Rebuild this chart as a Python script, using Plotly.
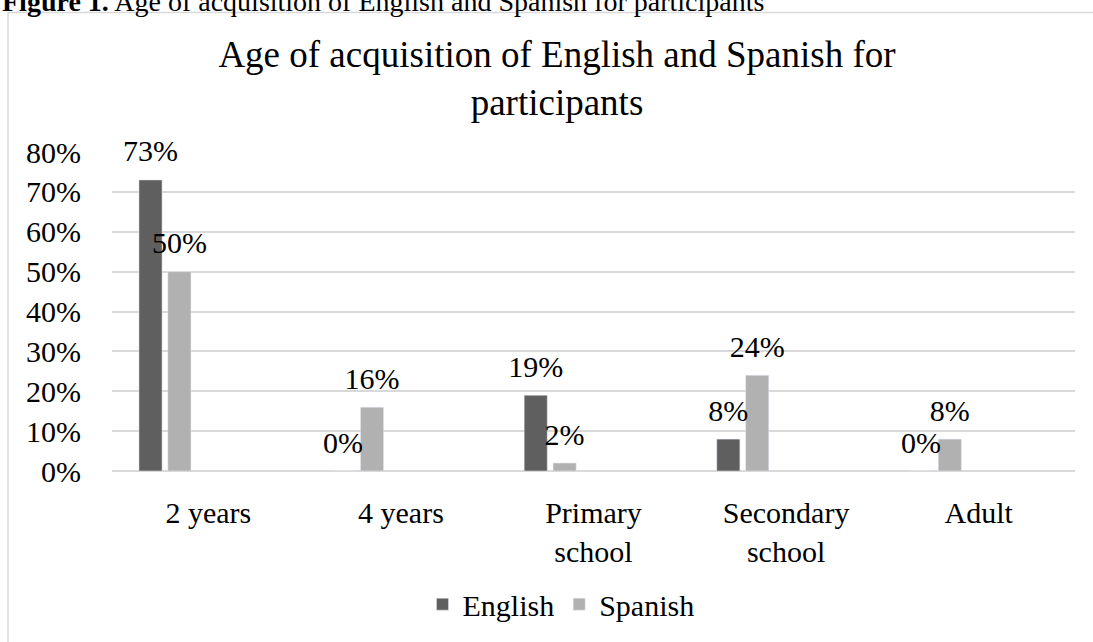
import plotly.graph_objects as go

categories = ["2 years", "4 years", "Primary<br>school", "Secondary<br>school", "Adult"]
english = [0.73, 0.00, 0.19, 0.08, 0.00]
spanish = [0.50, 0.16, 0.02, 0.24, 0.08]
# the source chart keeps three empty series, which reserve slots in each group
empty = [None, None, None, None, None]

y_ticks = [0, 0.1, 0.2, 0.3, 0.4, 0.5, 0.6, 0.7, 0.8]

FONT = "Times New Roman, Liberation Serif, serif"
GAP = 0.25

# plot area in pixels (1093 x 642 page)
L, R, T, B = 112, 18, 152, 169
PW = 1093 - L - R
PH = 642 - T - B


def px_x(x):
    return (x - L) / PW


def px_y(y):
    return (642 - B - y) / PH


fig = go.Figure()
series = [("English", english, "#5f5f5f"), ("Spanish", spanish, "#b1b1b1")]
for name, vals, col in series:
    fig.add_trace(
        go.Bar(
            name=name,
            x=categories,
            y=vals,
            marker=dict(color=col),
        )
    )
for i in range(3):
    fig.add_trace(go.Bar(name=f"s{i}", x=categories, y=empty, showlegend=False, hoverinfo="skip"))

# data labels, grouped the same way as the bars
for name, vals, col in series:
    fig.add_trace(
        go.Scatter(
            x=categories,
            y=vals,
            mode="markers+text",
            text=[f"{v:.0%}" for v in vals],
            textposition="top center",
            textfont=dict(family=FONT, size=30, color="black"),
            marker=dict(size=16, opacity=0),
            orientation="v",
            showlegend=False,
            hoverinfo="skip",
            cliponaxis=False,
        )
    )
for i in range(3):
    fig.add_trace(
        go.Scatter(x=categories, y=empty, mode="markers", orientation="v",
                   showlegend=False, hoverinfo="skip")
    )

fig.update_layout(
    width=1093,
    height=642,
    margin=dict(l=L, r=R, t=T, b=B),
    paper_bgcolor="white",
    plot_bgcolor="white",
    barmode="group",
    bargap=GAP,
    bargroupgap=0.2,
    scattermode="group",
    scattergap=GAP,
    font=dict(family=FONT, size=30, color="black"),
    title=dict(
        text="Age of acquisition of English and Spanish for<br>participants",
        font=dict(family=FONT, size=37, color="black"),
        x=557 / 1093,
        xref="container",
        xanchor="center",
        y=1 - 67 / 642,
        yref="container",
        yanchor="top",
    ),
    xaxis=dict(
        showgrid=False,
        showline=False,
        ticks="",
        ticklabelstandoff=21,
        tickfont=dict(family=FONT, size=30, color="black"),
    ),
    yaxis=dict(
        range=[0, 0.8],
        tickvals=y_ticks,
        tickformat=".0%",
        showgrid=True,
        gridcolor="#d9d9d9",
        gridwidth=1.5,
        zeroline=True,
        zerolinecolor="#d9d9d9",
        zerolinewidth=1.5,
        showline=False,
        ticks="",
        ticklabelstandoff=30,
        tickfont=dict(family=FONT, size=30, color="black"),
    ),
    legend=dict(
        orientation="h",
        x=px_x(561),
        xanchor="center",
        y=px_y(607),
        yanchor="middle",
        font=dict(family=FONT, size=30, color="black"),
        itemwidth=30,
    ),
    showlegend=True,
)

# chart frame
fig.add_shape(
    type="rect",
    xref="paper",
    yref="paper",
    x0=px_x(8),
    x1=px_x(1110),
    y0=px_y(660),
    y1=px_y(11.5),
    line=dict(color="#d9d9d9", width=1.5),
    fillcolor="rgba(0,0,0,0)",
    layer="below",
)

# document caption, cut off at the top edge as in the source
fig.add_annotation(
    text="<b>Figure 1.</b> Age of acquisition of English and Spanish for participants",
    xref="paper",
    yref="paper",
    x=px_x(0),
    xanchor="left",
    y=px_y(18),
    yanchor="bottom",
    showarrow=False,
    font=dict(family=FONT, size=28, color="black"),
)

fig.write_html(
    "out.html",
    config={"displayModeBar": False},
    post_script="document.body.style.margin='0';",
)
